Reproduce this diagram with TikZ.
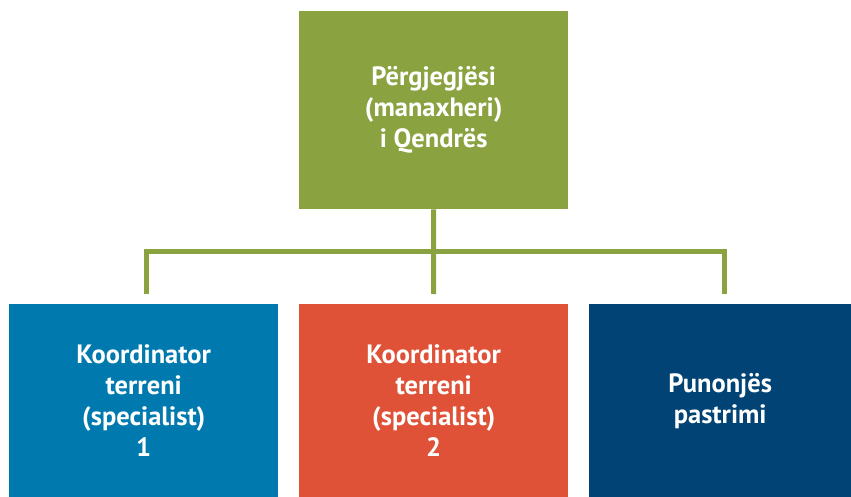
\documentclass[tikz,border=0pt]{standalone}
\usepackage{fontspec}
\setmainfont{PT Sans}
\usepackage{xcolor}

\definecolor{headgreen}{RGB}{138,162,64}
\definecolor{coordblue}{RGB}{0,122,174}
\definecolor{coordred}{RGB}{223,82,55}
\definecolor{staffnavy}{RGB}{0,67,116}

\begin{document}
\begin{tikzpicture}[x=1pt,y=1pt,
    orgbox/.style={anchor=north west, inner sep=0pt, text=white, align=center,
      font=\bfseries\fontsize{26.5}{31}\selectfont},
    link/.style={draw=headgreen, line width=5pt, line join=miter}]
        \useasboundingbox (0,0) rectangle (851,-497);
        % Head of the centre
        \node[orgbox, fill=headgreen, minimum width=269pt, minimum height=198pt] (head) at (299,-11)
            {Përgjegjësi\\(manaxheri)\\i Qendrës};
        % Staff boxes
        \node[orgbox, fill=coordblue, minimum width=269pt, minimum height=193pt] (coordA) at (9,-304)
            {Koordinator\\terreni\\(specialist)\\1};
        \node[orgbox, fill=coordred, minimum width=269pt, minimum height=193pt] (coordB) at (299,-304)
            {Koordinator\\terreni\\(specialist)\\2};
        \node[orgbox, fill=staffnavy, minimum width=262pt, minimum height=193pt] (cleaner) at (589,-304)
            {Punonjës\\pastrimi};
        % Connector ends (stop short of the boxes)
        \coordinate (bus) at (433.5,-251.5);
        \coordinate (endA) at (146,-294);
        \coordinate (endB) at (433.5,-294);
        \coordinate (endC) at (724,-294);
        \draw[link] (head.south) -- (endB);
        \draw[link] (endA) |- (bus) -| (endC);
\end{tikzpicture}
\end{document}
